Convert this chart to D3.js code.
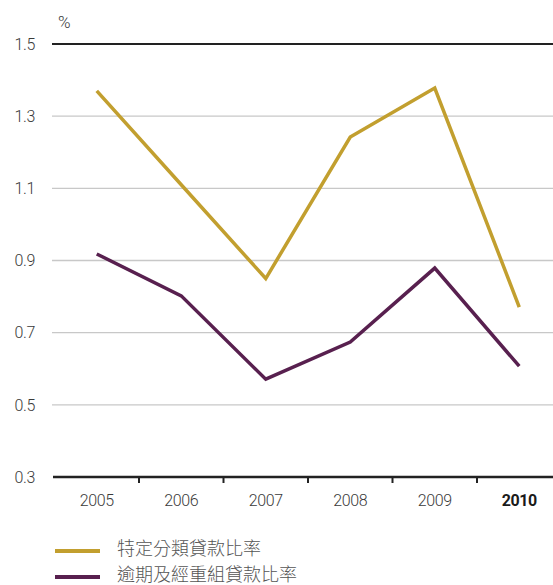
<!DOCTYPE html>
<html>
<head>
<meta charset="utf-8">
<script src="https://cdn.jsdelivr.net/npm/d3@7"></script>
<style>
  body { margin: 0; background: #fff; }
  svg { display: block; }
  .lbl { font-family: Roboto, "Noto Sans", sans-serif; font-weight: 300; fill: #3a3a3a; letter-spacing: -0.4px; }
  .leg { font-family: "Noto Sans CJK TC", "Noto Sans CJK SC", sans-serif; font-weight: 300; fill: #555; }
</style>
</head>
<body>
<div id="chart"></div>
<script>
// data
const years = ['2005', '2006', '2007', '2008', '2009', '2010'];
const specialLoans = [1.37, 1.11, 0.85, 1.242, 1.378, 0.771];
const overdueLoans = [0.918, 0.802, 0.571, 0.674, 0.879, 0.607];
const yTicks = [0.3, 0.5, 0.7, 0.9, 1.1, 1.3, 1.5];
const seriesNames = ['特定分類貸款比率', '逾期及經重組貸款比率'];

const width = 553, height = 585;
const plotLeft = 53, plotRight = 553, plotTop = 44, plotBottom = 477;
const gold = '#c29f2f', plum = '#58204f';

const svg = d3.select('#chart').append('svg')
    .attr('width', width)
    .attr('height', height);

let x = d3.scaleBand()
    .domain(years)
    .range([54.5, 561.5]);

let y = d3.scaleLinear()
    .domain([0.3, 1.5])
    .range([plotBottom, plotTop]);

// gridlines
svg.append('g')
    .selectAll('line')
    .data(yTicks.filter(d => d > 0.3))
    .enter().append('line')
    .attr('x1', 52)
    .attr('x2', plotRight)
    .attr('y1', d => y(d))
    .attr('y2', d => y(d))
    .style('stroke', d => d === 1.5 ? '#222' : '#c8c8c8')
    .style('stroke-width', d => d === 1.5 ? 2 : 1.3);

// y labels
svg.append('g')
    .selectAll('text')
    .data(yTicks)
    .enter().append('text')
    .attr('class', 'lbl')
    .attr('x', 35)
    .attr('y', d => y(d))
    .attr('dy', '0.36em')
    .attr('text-anchor', 'end')
    .attr('font-size', 16)
    .text(d => d.toFixed(1));

svg.append('text')
    .attr('class', 'lbl')
    .attr('x', 58)
    .attr('y', 28)
    .attr('font-size', 17)
    .text('%');

// x axis
const xAxis = svg.append('g')
    .attr('transform', 'translate(0,' + plotBottom + ')');
xAxis.append('line')
    .attr('x1', plotLeft)
    .attr('x2', plotRight)
    .style('stroke', '#222')
    .style('stroke-width', 2.5);
xAxis.selectAll('.tk')
    .data(years.slice(1))
    .enter().append('line')
    .attr('class', 'tk')
    .attr('x1', d => x(d))
    .attr('x2', d => x(d))
    .attr('y1', 0)
    .attr('y2', 6)
    .style('stroke', '#222')
    .style('stroke-width', 2);
xAxis.selectAll('text')
    .data(years)
    .enter().append('text')
    .attr('class', 'lbl')
    .attr('x', d => x(d) + x.bandwidth() / 2)
    .attr('y', 29)
    .attr('text-anchor', 'middle')
    .attr('font-size', 16)
    .style('font-weight', d => d === '2010' ? 'bold' : 300)
    .style('fill', d => d === '2010' ? '#1a1a1a' : '#3a3a3a')
    .text(d => d);

// lines
const line = d3.line()
    .x((d, i) => x(years[i]) + x.bandwidth() / 2)
    .y(d => y(d));

[[specialLoans, gold], [overdueLoans, plum]].forEach(function(s) {
    svg.append('path')
        .datum(s[0])
        .attr('d', line)
        .style('fill', 'none')
        .style('stroke', s[1])
        .style('stroke-width', 3.5)
        .style('stroke-linejoin', 'miter');
});

// legend
const legend = svg.append('g');
seriesNames.forEach(function(name, i) {
    const ly = 551 + i * 26;
    legend.append('line')
        .attr('x1', 55)
        .attr('x2', 100)
        .attr('y1', ly)
        .attr('y2', ly)
        .style('stroke', i === 0 ? gold : plum)
        .style('stroke-width', 4);
    legend.append('text')
        .attr('class', 'leg')
        .attr('x', 117)
        .attr('y', ly - 2)
        .attr('dy', '0.35em')
        .attr('font-size', 18)
        .text(name);
});
</script>
</body>
</html>
